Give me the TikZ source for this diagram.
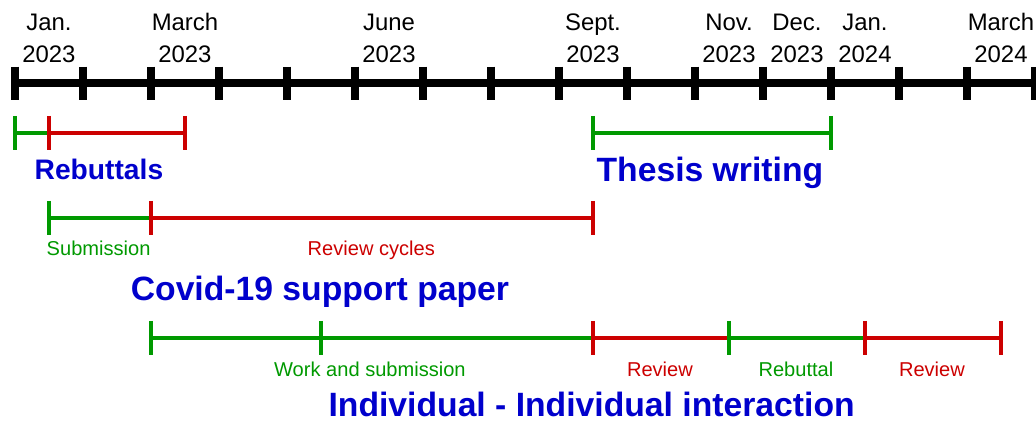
\documentclass[tikz,border=0pt]{standalone}
\usepackage{fontspec}
\setmainfont{Liberation Sans}
\definecolor{gr}{RGB}{0,153,0}
\definecolor{rd}{RGB}{204,0,0}
\definecolor{bl}{RGB}{0,0,204}
\tikzset{ax/.style = {line width=3.3pt},
    gb/.style = {gr, line width=1.7pt},
    rb/.style = {rd, line width=1.7pt},
    mon/.style = {align=center, inner sep=0pt, anchor=base, font=\fontsize{10}{13.4}\selectfont},
    lg/.style = {gr, inner sep=0pt, anchor=base, font=\fontsize{8.4}{10}\selectfont},
    lr/.style = {rd, inner sep=0pt, anchor=base, font=\fontsize{8.4}{10}\selectfont},
    ttl/.style = {bl, inner sep=0pt, anchor=base, font=\bfseries\fontsize{14.1}{17}\selectfont}}

\begin{document}
\begin{tikzpicture}
    \useasboundingbox (-0.22,1.22) rectangle (15.015,-5.0);
    % time axis, one step per month
    \foreach \i in {0,...,15} \coordinate (t\i) at (\i,0);
    \draw[ax] (t0) -- (t15);
    \foreach \i in {0,...,15} \draw[ax] (t\i) ++(0,0.24) -- ++(0,-0.49);
    \foreach \n/\x/\s in {m1/0.5/{Jan.\\2023}, m2/2.5/{March\\2023}, m3/5.5/{June\\2023},
        m4/8.5/{Sept.\\2023}, m5/10.5/{Nov.\\2023}, m6/11.5/{Dec.\\2023},
        m7/12.5/{Jan.\\2024}, m8/14.5/{March\\2024}}
        \node[mon] (\n) at (\x,0.294) {\s};

    % bar ends
    \foreach \n/\x in {a0/0, a1/0.5, a2/2.5, b0/8.5, b1/12} \coordinate (\n) at (\x,-0.735);
    \foreach \n/\x in {c0/0.5, c1/2, c2/8.5} \coordinate (\n) at (\x,-1.985);
    \foreach \n/\x in {d0/2, d1/4.5, d2/8.5, d3/10.5, d4/12.5, d5/14.5} \coordinate (\n) at (\x,-3.75);

    \draw[gb] (a0) -- (a1);
    \draw[rb] (a1) -- (a2);
    \draw[gb] (b0) -- (b1);
    \draw[gb] (c0) -- (c1);
    \draw[rb] (c1) -- (c2);
    \draw[gb] (d0) -- (d1) -- (d2);
    \draw[rb] (d2) -- (d3);
    \draw[gb] (d3) -- (d4);
    \draw[rb] (d4) -- (d5);
    \foreach \c/\n in {gb/a0, rb/a1, rb/a2, gb/b0, gb/b1, gb/c0, rb/c1, rb/c2,
        gb/d0, gb/d1, rb/d2, gb/d3, rb/d4, rb/d5}
        \draw[\c, line width=1.9pt] (\n) ++(0,0.25) -- ++(0,-0.5);

    \node[ttl, font=\bfseries\fontsize{11.8}{14}\selectfont] (rebut) at (1.235,-1.426) {Rebuttals};
    \node[ttl] (thesis) at (10.22,-1.45) {Thesis writing};
    \node[lg] (sub) at (1.23,-2.54) {Submission};
    \node[lr] (revc) at (5.24,-2.54) {Review cycles};
    \node[ttl] (covid) at (4.485,-3.2) {Covid-19 support paper};
    \node[lg] (work) at (5.22,-4.32) {Work and submission};
    \node[lr] (rev1) at (9.485,-4.32) {Review};
    \node[lg] (rebl) at (11.485,-4.32) {Rebuttal};
    \node[lr] (rev2) at (13.485,-4.32) {Review};
    \node[ttl] (indiv) at (8.48,-4.906) {Individual - Individual interaction};
\end{tikzpicture}
\end{document}
